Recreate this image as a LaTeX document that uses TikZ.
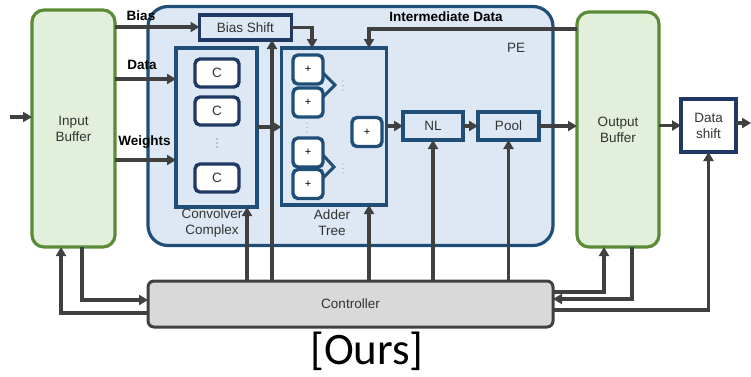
\documentclass[tikz,border=0pt]{standalone}
\usepackage{fontspec}
\setmainfont{Liberation Sans}
\newfontfamily\captionfont{Carlito}
\usetikzlibrary{arrows.meta}

\definecolor{bufgreen}{HTML}{5A8C37}
\definecolor{buffill}{HTML}{E2EFDA}
\definecolor{pefill}{HTML}{DDE8F4}
\definecolor{peblue}{HTML}{1F4E79}
\definecolor{navy}{HTML}{203864}
\definecolor{wiregray}{HTML}{404040}
\definecolor{ctrlfill}{HTML}{D9D9D9}
\definecolor{txtgray}{HTML}{333333}

\tikzset{
  lbl/.style={font=\fontsize{13.5}{16}\selectfont, text=txtgray, align=center},
  boldlbl/.style={font=\fontsize{13.5}{16}\selectfont\bfseries, text=black},
  bufbox/.style={draw=bufgreen, fill=buffill, line width=3.2pt, rounded corners=12pt,
    inner sep=0pt, outer sep=0pt, lbl},
  pebox/.style={draw=peblue, fill=pefill, line width=3.2pt, rounded corners=20pt,
    inner sep=0pt, outer sep=0pt},
  unitbox/.style={draw=peblue, fill=pefill, line width=3.2pt, inner sep=0pt, outer sep=0pt, lbl},
  shiftbox/.style={draw=navy, line width=3.4pt, inner sep=0pt, outer sep=0pt, lbl},
  cellbox/.style={draw=peblue, fill=white, line width=3.4pt, rounded corners=5pt,
    inner sep=0pt, outer sep=0pt, minimum width=30pt, minimum height=29pt,
    font=\fontsize{11}{12}\selectfont, text=black},
  convcell/.style={draw=navy, fill=white, line width=3.4pt, rounded corners=5pt,
    inner sep=0pt, outer sep=0pt, minimum width=44pt, minimum height=28pt, lbl},
  ctrlbox/.style={draw=wiregray, fill=ctrlfill, line width=3pt, rounded corners=6pt,
    inner sep=0pt, outer sep=0pt, lbl},
  wire/.style={draw=wiregray, line width=3.2pt, -{Triangle[length=9pt,width=10pt]}},
  chevron/.style={draw=peblue, line width=3pt},
  dotmark/.style={fill=gray!80, draw=none}
}

\begin{document}
\begin{tikzpicture}[x=1pt,y=-1pt]
\useasboundingbox (0,0) rectangle (751,376);

% processing element container
\node[pebox, minimum width=405pt, minimum height=239pt] (pe) at (350.5,126) {};
\node[lbl] (pelabel) at (516,48) {PE};

% buffers
\node[bufbox, minimum width=83pt, minimum height=237pt] (ib) at (73.5,128.5) {Input\\Buffer};
\node[bufbox, minimum width=82pt, minimum height=235pt] (ob) at (618,129.5) {Output\\Buffer};

% bias shift and data shift
\node[shiftbox, fill=pefill, minimum width=92pt, minimum height=25pt] (bs) at (245.5,27.5) {Bias Shift};
\node[shiftbox, fill=white, minimum width=55pt, minimum height=53pt] (ds) at (708.5,125.5) {Data\\shift};

% convolver complex
\node[unitbox, minimum width=81pt, minimum height=159pt] (conv) at (216.5,127.5) {};
\node[convcell] (c1) at (217,73) {C};
\node[convcell] (c2) at (217,111) {C};
\node[convcell] (c3) at (217,178) {C};
\foreach \yy in {139,143,147} \fill[dotmark] (217,\yy) circle (0.8pt);
\node[lbl] (convlabel) at (212,223) {Convolver\\Complex};

% adder tree
\node[unitbox, minimum width=105pt, minimum height=157pt] (adder) at (334,126.5) {};
\node[cellbox] (p1) at (308,69.5) {+};
\node[cellbox] (p2) at (308,102.5) {+};
\node[cellbox] (p3) at (308,152.5) {+};
\node[cellbox] (p4) at (308,184) {+};
\node[cellbox] (p5) at (367,132) {+};
\draw[chevron] (323,73) -- (335,85) -- (323,97);
\draw[chevron] (323,155) -- (334,167) -- (323,178);
\foreach \yy in {123,127.5,132} \fill[dotmark] (307,\yy) circle (0.7pt);
\foreach \yy in {81,85.5,90} \fill[dotmark] (343,\yy) circle (0.7pt);
\foreach \yy in {164,168.5,173} \fill[dotmark] (343,\yy) circle (0.7pt);
\node[lbl] (adderlabel) at (332,223) {Adder\\Tree};

% nonlinearity and pooling
\node[unitbox, minimum width=60pt, minimum height=28pt] (nl) at (433,126) {NL};
\node[unitbox, minimum width=61pt, minimum height=28pt] (pool) at (508.5,126) {Pool};

% controller
\node[ctrlbox, minimum width=405pt, minimum height=46pt] (ctrl) at (350.5,304) {Controller};

% caption
\node[font=\captionfont\fontsize{45}{48}\selectfont] (caption) at (367,351) {[Ours]};

% column and row positions of the wires
\coordinate (inport) at (10,117);
\coordinate (outport) at (751,123);
\coordinate (biasrow) at (0,27);
\coordinate (datarow) at (0,79);
\coordinate (wrow) at (0,160);
\coordinate (treerow) at (0,127);
\coordinate (colconv) at (247,0);
\coordinate (colbs) at (272,0);
\coordinate (coladd) at (369,0);
\coordinate (colbias) at (312,0);
\coordinate (interm) at (369,29);
\coordinate (ibout) at (82,300);
\coordinate (ibin) at (61,313);
\coordinate (obin) at (604,292);
\coordinate (obout) at (632,299);
\coordinate (dsin) at (708,310);

% data path
\draw[wire] (inport) -- (inport -| ib.west);
\draw[wire] (biasrow -| ib.east) -- (biasrow -| bs.west);
\draw[wire] (datarow -| ib.east) -- (datarow -| conv.west);
\draw[wire] (wrow -| ib.east) -- (wrow -| conv.west);
\node[boldlbl] (biaslabel) at (141,16) {Bias};
\node[boldlbl] (datalabel) at (142,65) {Data};
\node[boldlbl] (wlabel) at (144.5,142) {Weights};
\draw[wire] (bs.east) -| (colbias |- adder.north);
\draw[wire] (interm -| ob.west) -| (interm |- adder.north);
\node[boldlbl] (intlabel) at (446,17) {Intermediate Data};
\draw[wire] (treerow -| conv.east) -- (treerow -| adder.west);
\draw[wire] (adder.east |- nl.west) -- (nl.west);
\draw[wire] (nl.east) -- (pool.west);
\draw[wire] (pool.east) -- (ob.west |- pool.east);
\draw[wire] (ob.east |- ds.west) -- (ds.west);
\draw[wire] (ds.east |- outport) -- (outport);

% control lines
\draw[wire] (colconv |- ctrl.north) -- (colconv |- conv.south);
\draw[wire] (colbs |- ctrl.north) -- (colbs |- bs.south);
\draw[wire] (coladd |- ctrl.north) -- (coladd |- adder.south);
\draw[wire] (nl.south |- ctrl.north) -- (nl.south);
\draw[wire] (pool.south |- ctrl.north) -- (pool.south);
\draw[wire] (ibout |- ib.south) |- (ibout -| ctrl.west);
\draw[wire] (ibin -| ctrl.west) -| (ibin |- ib.south);
\draw[wire] (obin -| ctrl.east) -| (obin |- ob.south);
\draw[wire] (obout |- ob.south) |- (obout -| ctrl.east);
\draw[wire] (dsin -| ctrl.east) -| (ds.south);
\end{tikzpicture}
\end{document}
